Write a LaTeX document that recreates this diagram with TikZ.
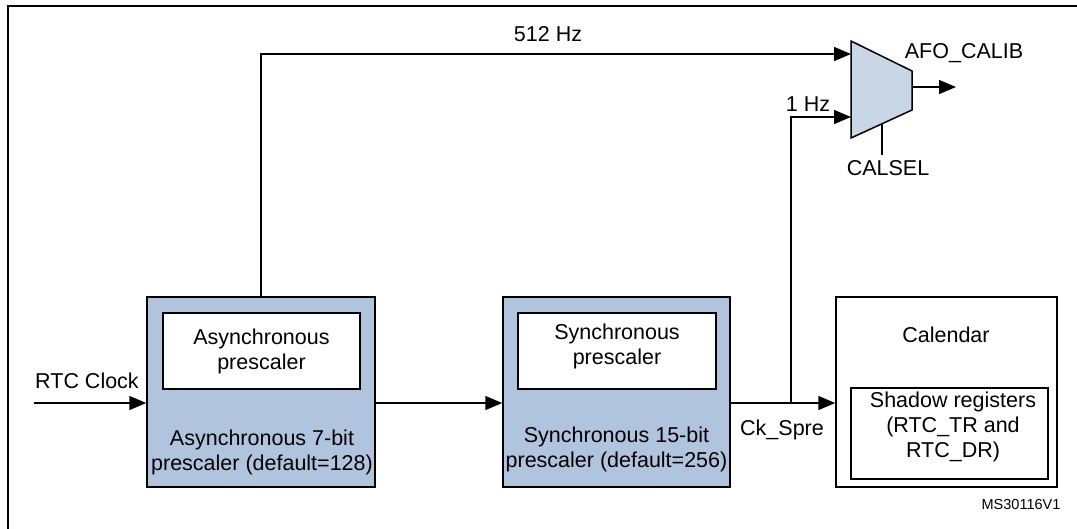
\documentclass[tikz,border=0pt]{standalone}
\usepackage{fontspec}
\setmainfont{Liberation Sans}
\usetikzlibrary{arrows.meta}
\definecolor{blockfill}{RGB}{176,196,222}
\definecolor{muxfill}{RGB}{201,214,230}
\begin{document}
\begin{tikzpicture}[x=1pt,y=-1pt,
  every node/.style={font=\fontsize{21.5}{25}\selectfont, inner sep=0pt, align=center},
  block/.style={draw=black, line width=1.5pt, fill=blockfill, minimum width=228pt, minimum height=190pt},
  whitebox/.style={draw=black, line width=1.5pt, fill=white},
  calbox/.style={draw=black, line width=1.5pt, fill=white, minimum width=221pt, minimum height=190pt},
  wire/.style={line width=1.5pt},
  arr/.style={wire, -{Triangle[length=17pt,width=14pt]}},
  lbl/.style={font=\fontsize{21.5}{25}\selectfont}]
\useasboundingbox (0,0) rectangle (1077,528);
% outer frame
\draw[line width=2.5pt] (8,540) -- (8,6) -- (1090,6);

% blocks
\node[block] (async) at (261,392) {};
\node[whitebox, minimum width=197pt, minimum height=76pt] (asyncin) at (261.5,351) {Asynchronous\\prescaler};
\node (asynctxt) at (262,452) {Asynchronous 7-bit\\prescaler (default=128)};

\node[block, minimum width=227pt] (sync) at (616.5,392) {};
\node[whitebox, minimum width=198pt, minimum height=76pt] (syncin) at (617,351) {};
\node (syncintxt) at (617,346) {Synchronous\\prescaler};
\node (synctxt) at (616.5,449) {Synchronous 15-bit\\prescaler (default=256)};

\node[calbox] (cal) at (946.5,392) {};
\node (caltxt) at (946,335) {Calendar};
\node[whitebox, minimum width=197pt, minimum height=91pt] (shadow) at (949.5,433.5) {};
\node (shadowtxt) at (953,427) {Shadow registers\\(RTC\_TR and\\RTC\_DR)};

% mux
\coordinate (m1) at (851,41);
\coordinate (m2) at (912,71);
\coordinate (m3) at (912,110);
\coordinate (m4) at (851,138);
\draw[wire, fill=muxfill] (m1) -- (m2) -- (m3) -- (m4) -- cycle;
\coordinate (in512) at (851,54);
\coordinate (in1) at (851,117);
\coordinate (muxout) at (912,87);
\coordinate (outend) at (956,87);
\coordinate (selA) at (882,123.5);
\coordinate (selB) at (882,155);

% connectors
\coordinate (rtcstart) at (34,403);
\draw[arr] (rtcstart) -- (rtcstart -| async.west);
\node[lbl] (rtclbl) at (87,381) {RTC Clock};

\draw[arr] (async.east |- 0,403) -- (sync.west |- 0,403);
\draw[arr] (sync.east |- 0,403) -- (cal.west |- 0,403);
\coordinate (branch) at (791,403);
\draw[arr] (branch) -- (791,117) -- (in1);
\node[lbl] (ckspre) at (782,430) {Ck\_Spre};
\node[lbl] (hz1) at (808,104) {1 Hz};

\draw[arr] (async.north) -- (261,54) -- (in512);
\node[lbl] (hz512) at (548,34) {512 Hz};

\draw[arr] (muxout) -- (outend);
\node[lbl] (afo) at (964,53) {AFO\_CALIB};
\draw[wire] (selA) -- (selB);
\node[lbl] (calsel) at (888,168) {CALSEL};

\node[font=\fontsize{14.5}{17}\selectfont] (ms) at (1021,505) {MS30116V1};
\end{tikzpicture}
\end{document}
